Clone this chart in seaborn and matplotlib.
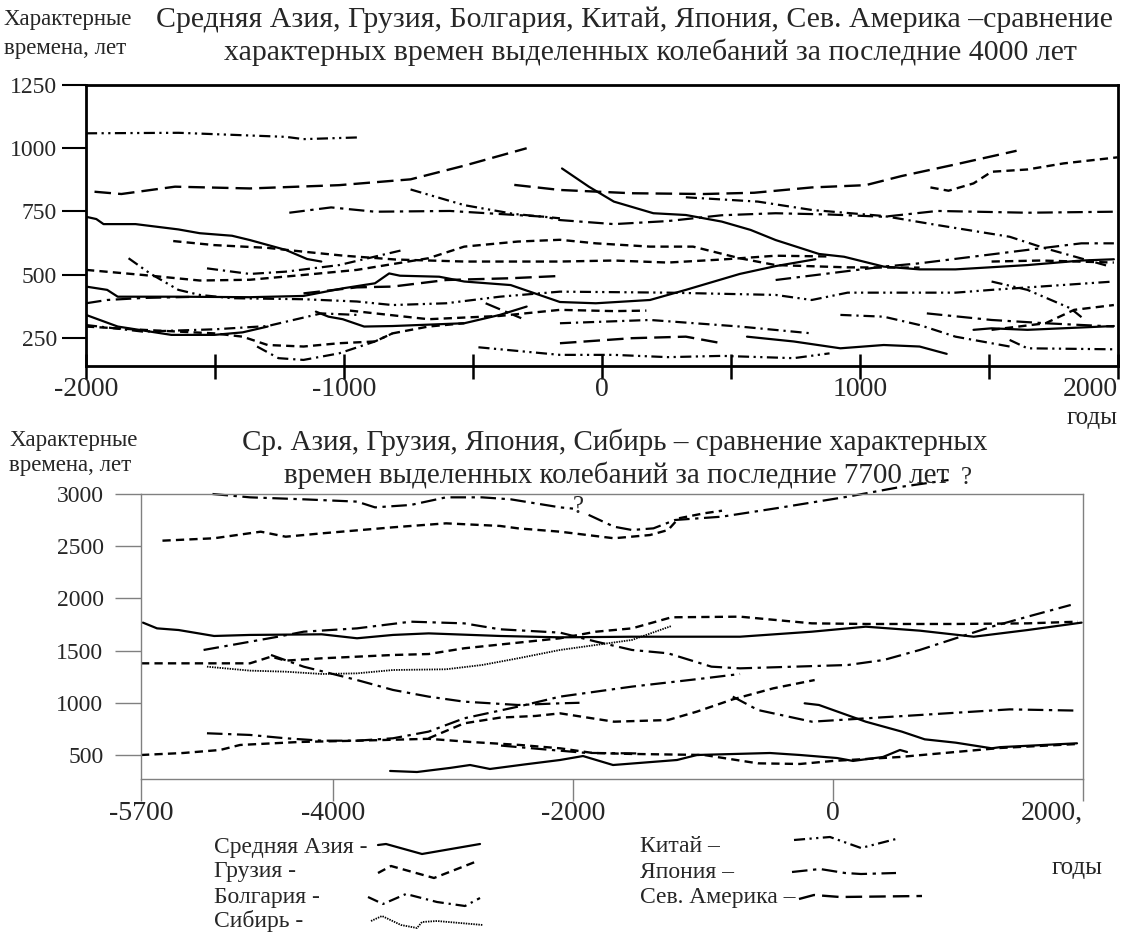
import numpy as np
import pandas as pd
import matplotlib
matplotlib.use("Agg")
import matplotlib.pyplot as plt
import seaborn as sns

W, H = 1124, 941

# ---------------- top panel: last 4000 years ----------------
top_asia = [
    ([-2000, -1960, -1932, -1808, -1642, -1559, -1434, -1365, -1226, -1143, -1088],
     [729, 720, 700, 700, 679, 664, 654, 637, 598, 562, 552]),
    ([-2000, -1918, -1877, -1642, -1365, -1157, -1005, -880, -825, -783, -631, -534, -354,
      -163, -24, 186, 325, 534, 673, 827],
     [453, 440, 413, 413, 411, 416, 446, 466, 505, 496, 492, 473, 459, 392, 387, 400, 440,
      503, 534, 561]),
    ([-2000, -1877, -1669, -1503, -1393, -1296], [341, 295, 262, 262, 272, 295]),
    ([-1109, -1060, -1005, -922, -812, -534, -396, -292], [354, 334, 324, 295, 297, 308, 341, 374]),
    ([-155, -51, 46, 199, 325, 464, 576, 673, 841, 938, 1092, 1231, 1370, 1649, 1858, 1984],
     [920, 848, 789, 743, 736, 710, 677, 637, 582, 571, 532, 521, 521, 538, 556, 561]),
    ([562, 743, 924, 1092, 1231, 1336], [255, 236, 209, 222, 216, 187]),
    ([1440, 1510, 1649, 1984], [282, 288, 282, 297]),
]
top_georgia = [
    ([-2000, -1780, -1559, -1365, -1157, -950, -673, -534, -327, -163, -24, 186, 353, 534, 673, 952, 1231],
     [519, 499, 477, 480, 499, 519, 565, 611, 631, 638, 624, 611, 611, 565, 538, 529, 528]),
    ([-1662, -1503, -1296, -1157, -1000, -800, -534, -327, -163, 46, 255, 464, 673, 882],
     [633, 617, 606, 591, 575, 560, 552, 552, 552, 556, 548, 560, 575, 572]),
    ([-2000, -1780, -1503, -1393, -1296, -1157, -1019, -880, -812, -673, -534],
     [295, 282, 268, 255, 222, 216, 229, 236, 268, 295, 308]),
    ([1273, 1343, 1440, 1510, 1649, 1789, 1998], [845, 832, 861, 907, 916, 940, 964]),
    ([1510, 1719, 1830, 1984], [282, 308, 361, 380]),
    ([-977, -673, -396, -163, 46, 172], [358, 324, 337, 361, 356, 358]),
    ([1510, 1700, 1984], [552, 556, 548]),
]
top_bulgaria = [
    ([-1531, -1365, -1226, -1019, -770], [525, 503, 512, 538, 598]),
    ([-2000, -1780, -1503, -1296, -1088, -950], [301, 275, 284, 297, 347, 341]),
    ([-1337, -1254, -1157, -1019, -880, -812], [216, 170, 163, 189, 236, 268]),
    ([325, 604, 813, 1092, 1301, 1580, 1719, 1970], [806, 789, 756, 732, 696, 650, 604, 532]),
    ([924, 1092, 1231, 1370, 1580], [341, 334, 301, 255, 216]),
    ([-163, 186, 534, 813], [308, 321, 295, 268]),
]
top_china = [
    ([-2000, -1641, -1226, -1157, -936], [1059, 1061, 1045, 1036, 1043]),
    ([-742, -534, -340, -163], [837, 775, 740, 723]),
    ([-1835, -1752, -1642, -1559, -1434, -1157, -950, -812, -604, -396, -163, 255, 673, 813,
      952, 1370, 1510, 1984],
     [565, 505, 440, 420, 407, 403, 394, 380, 387, 413, 433, 429, 420, 400, 429, 429, 440, 473]),
    ([1510, 1649, 1816, 1872], [473, 440, 367, 321]),
    ([-479, -163, 46, 255, 464, 743, 882], [213, 183, 183, 174, 179, 170, 189]),
    ([1580, 1649, 1984], [242, 209, 205]),
]
top_japan = [
    ([-1212, -1050, -880, -590, -220, -163, 46, 255, 464, 673, 880, 1092, 1300, 1649, 1984],
     [745, 766, 749, 752, 729, 716, 700, 712, 735, 743, 738, 729, 752, 745, 749]),
    ([-2000, -1918, -1780, -1600], [387, 400, 408, 412]),
    ([-451, -313], [387, 328]),
    ([673, 1092, 1231, 1649, 1858, 1984], [479, 532, 545, 598, 624, 624]),
    ([1259, 1510, 1719, 1984], [347, 321, 308, 295]),
]
top_namerica = [
    ([-1967, -1863, -1655, -1365, -1019, -742, -534, -292], [828, 819, 848, 841, 854, 877, 931, 1000]),
    ([-340, -163, 116, 395, 590, 813, 1022, 1161, 1370, 1607], [855, 835, 822, 819, 824, 845, 854, 890, 936, 990]),
    ([-1157, -950, -812, -604, -354, -163], [426, 450, 453, 479, 486, 495]),
    ([-163, 116, 325, 464], [229, 249, 255, 229]),
]

top_ticks = [250, 500, 750, 1000, 1250]
top_major = [-2000, -1000, 0, 1000, 2000]
top_minor = [-1500, -500, 500, 1500]

# ---------------- bottom panel: last 7700 years ----------------
bot_asia = [
    ([-5683, -5558, -5367, -5053, -4735, -4100, -3800, -3500, -3203, -2608, -2108, -1546, -715,
      -163, 262, 694, 1126, 1557, 1989],
     [1768, 1713, 1697, 1640, 1650, 1656, 1618, 1650, 1665, 1640, 1627, 1633, 1633, 1681, 1729,
      1691, 1633, 1697, 1768]),
    ([-3524, -3300, -3025, -2858, -2692, -2400, -2108, -1923, -1692, -1200, -1046, -485, -254,
      32, 160, 400, 536, 592],
     [347, 337, 376, 404, 366, 410, 452, 490, 404, 452, 500, 519, 500, 471, 443, 481, 548, 529]),
    ([-218, -108, 262, 550, 734, 982, 1270, 1336, 1952], [995, 979, 819, 724, 650, 618, 564, 575, 612]),
]
bot_georgia = [
    ([-5510, -5053, -4640, -4419, -4100, -3500, -3058, -2608, -2458, -2108, -1685, -1408, -1269,
      -1187, -992, -854],
     [2553, 2576, 2639, 2591, 2623, 2681, 2719, 2694, 2671, 2639, 2576, 2607, 2655, 2767, 2815, 2840]),
    ([-5700, -5213, -4735, -4549, -4419, -4100, -3500, -3203, -2908, -2458, -2108, -1823, -1546,
      -1242, -715, -163, 262, 982, 1557, 1960],
     [1378, 1378, 1378, 1442, 1404, 1426, 1458, 1467, 1522, 1576, 1618, 1681, 1713, 1819, 1825,
      1761, 1755, 1755, 1761, 1777]),
    ([-5700, -5328, -5000, -4823, -4292, -3800, -3203, -2858, -2442, -2108, -1846, -1546, -992,
      -578, -254, 0, 536, 1336, 1952],
     [500, 519, 548, 596, 625, 637, 655, 625, 596, 564, 519, 510, 500, 420, 414, 443, 481, 567, 605]),
    ([-3203, -2908, -2608, -2311, -2108, -1685, -1269, -1048, -771, -458, -141],
     [660, 803, 858, 874, 899, 819, 835, 915, 1033, 1139, 1218]),
]
bot_japan = [
    ([-5067, -4735, -4260, -3800, -3650, -3352, -3058, -2758, -2519, -2108, -2000],
     [3000, 2968, 2949, 2927, 2872, 2895, 2968, 2968, 2949, 2872, 2860]),
    ([-1880, -1685, -1546, -1381, -1215, -854, -438, 120, 552, 924],
     [2800, 2687, 2655, 2671, 2751, 2783, 2863, 2975, 3070, 3134]),
    ([-5146, -4895, -4482, -4260, -3800, -3352, -2908, -2608, -2108, -1823, -1546, -1269, -935,
      -715, 118, 406, 694, 982, 1270, 1557, 1902],
     [1506, 1554, 1634, 1681, 1713, 1777, 1761, 1704, 1672, 1586, 1506, 1474, 1346, 1330, 1362,
      1410, 1506, 1618, 1729, 1825, 1937]),
    ([-4549, -4260, -3800, -3500, -3203, -2908, -2458, -2108, -1950],
     [1458, 1346, 1218, 1123, 1059, 1011, 979, 995, 1000]),
    ([-5116, -4735, -4419, -4100, -3800, -3500, -3203, -2908, -2458, -2108, -1546, -992, -715],
     [708, 692, 660, 637, 637, 660, 724, 851, 963, 1059, 1155, 1234, 1276]),
    ([-771, -578, -163, 262, 694, 1413, 1960], [1059, 931, 819, 851, 883, 937, 925]),
    ([-2600, -2300, -1900, -1500], [590, 560, 520, 515]),
]
bot_siberia = [
    ([-5116, -4735, -4419, -4100, -3800, -3500, -3058, -2758, -2458, -2108, -1823, -1546, -1242],
     [1346, 1308, 1298, 1276, 1282, 1314, 1321, 1362, 1426, 1506, 1554, 1602, 1736]),
]
question_marks = [(-1962, 2876), (1070, 3154)]

bot_yticks = [500, 1000, 1500, 2000, 2500, 3000]
bot_xticks = [-5700, -4000, -2000, 0, 2000]
# the lower year axis is not evenly spaced in the original drawing
bot_tick_pos = [0, 192, 432, 692, 942]

STYLE = {
    "asia": dict(linestyle="-", lw=1.6),
    "georgia": dict(linestyle=(0, (3.5, 2.2)), lw=1.7),
    "bulgaria": dict(linestyle=(0, (5, 2.2, 1, 2.2)), lw=1.6),
    "siberia": dict(linestyle=(0, (0.8, 0.6)), lw=1.3),
    "china": dict(linestyle=(0, (5, 2, 1, 2, 1, 2)), lw=1.6),
    "japan": dict(linestyle=(0, (7, 2.5, 1.5, 2.5)), lw=1.6),
    "namerica": dict(linestyle=(0, (7, 3)), lw=1.7),
}


def to_frame(segs):
    rows = []
    for i, (xs, ys) in enumerate(segs):
        for x, y in zip(xs, ys):
            rows.append({"year": x, "value": y, "seg": i})
    return pd.DataFrame(rows)


def draw(ax, groups, clip=True):
    for key, segs in groups:
        df = to_frame(segs)
        sns.lineplot(data=df, x="year", y="value", units="seg", estimator=None, sort=False,
                     color="black", legend=False, ax=ax, **STYLE[key])
    for ln in ax.get_lines():
        ln.set_clip_on(clip)


sns.set_theme(style="white")
plt.rcParams["font.family"] = ["Liberation Serif", "DejaVu Serif"]

fig = plt.figure(figsize=(W / 100, H / 100), dpi=100)
fig.patch.set_facecolor("white")


def fx(x):
    return x / W


def fy(y):
    return 1 - y / H


# ---- top axes ----
ax1 = fig.add_axes([fx(86), fy(366), (1118 - 86) / W, (366 - 85) / H])
draw(ax1, [("asia", top_asia), ("georgia", top_georgia), ("bulgaria", top_bulgaria),
           ("china", top_china), ("japan", top_japan), ("namerica", top_namerica)])
ax1.set_xlim(-2000, 2000)
ax1.set_ylim(139, 1250)
ax1.set_xticks(top_major)
ax1.set_xticklabels([str(v) for v in top_major])
ax1.set_xticks(top_minor, minor=True)
ax1.set_yticks(top_ticks)
ax1.set_yticklabels([str(v) for v in top_ticks])
ax1.tick_params(axis="x", which="both", direction="inout", length=18, width=1.8,
                color="black", labelsize=20, pad=-1, bottom=True)
ax1.tick_params(axis="y", direction="out", length=17, width=1.5, color="black",
                labelsize=17, pad=4, left=True)
ax1.get_xticklabels()[-1].set_ha("right")
for s in ax1.spines.values():
    s.set_color("black")
    s.set_linewidth(2)
ax1.set_xlabel("")
ax1.set_ylabel("")

# ---- bottom axes ----


def fwd(v):
    return np.interp(v, bot_xticks, bot_tick_pos)


def inv(v):
    return np.interp(v, bot_tick_pos, bot_xticks)


ax2 = fig.add_axes([fx(141), fy(779), (1083 - 141) / W, (779 - 494) / H])
ax2.set_xscale("function", functions=(fwd, inv))
draw(ax2, [("asia", bot_asia), ("georgia", bot_georgia), ("japan", bot_japan),
           ("siberia", bot_siberia)], clip=False)
ax2.set_xlim(-5700, 2000)
ax2.set_ylim(270, 3000)
ax2.set_xticks(bot_xticks)
ax2.set_xticklabels([str(v) for v in bot_xticks[:-1]] + ["2000,"])
ax2.xaxis.set_minor_locator(matplotlib.ticker.NullLocator())
ax2.set_yticks(bot_yticks)
ax2.set_yticklabels([str(v) for v in bot_yticks])
ax2.tick_params(axis="x", direction="out", length=16, width=1, color="#808080",
                labelsize=20, pad=0, bottom=True)
ax2.tick_params(axis="y", direction="out", length=19, width=1, color="#808080",
                labelsize=17, pad=8, left=True)
ax2.get_xticklabels()[-1].set_ha("right")
for s in ax2.spines.values():
    s.set_color("#808080")
    s.set_linewidth(1)
ax2.set_xlabel("")
ax2.set_ylabel("")
for qx, qy in question_marks:
    ax2.text(qx, qy, "?", fontsize=18, ha="center", va="center", clip_on=False)

# ---- titles and axis captions ----
fig.text(fx(4), fy(34), "Характерные\nвремена, лет", fontsize=16.5, ha="left", va="center",
         linespacing=1.45)
fig.text(fx(634), fy(20), "Средняя Азия, Грузия, Болгария, Китай, Япония, Сев. Америка –сравнение",
         fontsize=21.5, ha="center", va="center")
fig.text(fx(650), fy(52), "характерных времен выделенных колебаний за последние 4000 лет",
         fontsize=21.5, ha="center", va="center")
fig.text(fx(1118), fy(418), "годы", fontsize=18, ha="right", va="center")

fig.text(fx(9), fy(453), "Характерные\nвремена, лет", fontsize=16.5, ha="left", va="center",
         linespacing=1.3)
fig.text(fx(615), fy(442), "Ср. Азия, Грузия, Япония, Сибирь – сравнение характерных",
         fontsize=21, ha="center", va="center")
fig.text(fx(617), fy(475), "времен выделенных колебаний за последние 7700 лет",
         fontsize=21, ha="center", va="center")
fig.text(fx(1103), fy(868), "годы", fontsize=18, ha="right", va="center")

# ---- hand-drawn style legend ----
leg = fig.add_axes([0, 0, 1, 1], facecolor="none")
leg.set_xlim(0, W)
leg.set_ylim(H, 0)
leg.axis("off")

legend_rows = [
    ("Средняя Азия -", "asia", 214, 847,
     [(378, -2), (386, -3), (422, 7), (480, -3)]),
    ("Грузия -", "georgia", 214, 872,
     [(378, 1), (391, -6), (434, 6), (475, -10)]),
    ("Болгария -", "bulgaria", 214, 897,
     [(368, 0), (383, 7), (406, -3), (437, 5), (465, 9), (480, 1)]),
    ("Сибирь -", "siberia", 214, 921,
     [(371, 0), (382, -5), (401, 4), (417, 7), (422, 1), (437, 0), (483, 4)]),
    ("Китай –", "china", 640, 847,
     [(794, -7), (830, -10), (861, 1), (896, -8)]),
    ("Япония –", "japan", 640, 872,
     [(792, 0), (820, -3), (845, 1), (861, 2), (896, 1)]),
    ("Сев. Америка –", "namerica", 640, 897,
     [(799, 2), (814, -2), (840, 0), (922, -1)]),
]
for label, key, tx, ty, shape in legend_rows:
    leg.text(tx, ty, label, fontsize=17, ha="left", va="center")
    xs = [p[0] for p in shape]
    ys = [ty + p[1] for p in shape]
    leg.plot(xs, ys, color="black", **STYLE[key])

fig.savefig("out.png", dpi=100, facecolor="white")
